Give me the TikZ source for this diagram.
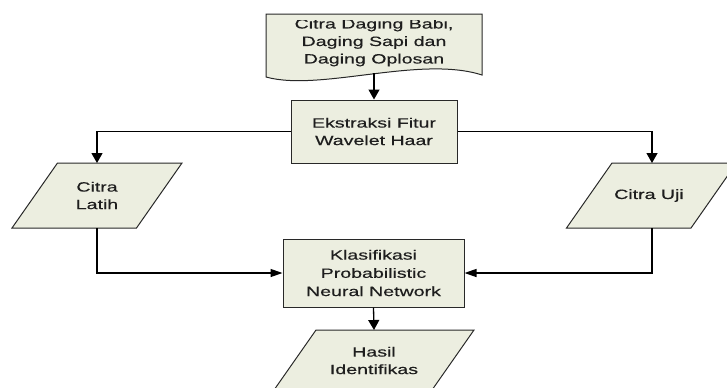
\documentclass[tikz,border=0pt]{standalone}
\usepackage{fontspec}
\setmainfont{Liberation Sans}[FakeStretch=1.45,FakeBold=0.4]
\usetikzlibrary{arrows.meta}
\definecolor{boxfill}{RGB}{236,238,224}
\definecolor{boxline}{RGB}{40,40,40}
\definecolor{txt}{RGB}{30,30,30}
\tikzset{
  shapeline/.style={draw=boxline, line width=1bp, fill=boxfill},
  procbox/.style={shapeline, rectangle, inner sep=0pt},
  lbl/.style={align=center, text=txt, inner sep=0pt, font=\fontsize{13.5bp}{17.5bp}\selectfont},
  conn/.style={draw=black, line width=1.3bp},
  varr/.style={conn, -{Triangle[length=10bp,width=11bp]}},
  harr/.style={conn, -{Triangle[length=12bp,width=8bp]}},
}
\begin{document}
\begin{tikzpicture}[x=1bp,y=-1bp]
\useasboundingbox (0,0) rectangle (727,387);
\clip (0,0) rectangle (727,387);
% document shape
\def\docpath{(266,14) -- (482,14) -- (482,75) .. controls (420,55) and (320,92) .. (266,77) -- cycle}
\fill[boxfill] \docpath;
\begin{scope}
  \clip (266,20.5) rectangle (482,80);
  \node[lbl] (doc) at (374,42.5) {Citra Daging Babi,\\Daging Sapi dan\\Daging Oplosan};
\end{scope}
\draw[draw=boxline, line width=1bp] \docpath;
\coordinate (docb) at (374,73);
% process boxes
\node[procbox, minimum width=166bp, minimum height=63bp] (ekstr) at (374,131.5) {};
\node[lbl] (ekstrt) at (374,131.5) {Ekstraksi Fitur\\Wavelet Haar};
\node[procbox, minimum width=181bp, minimum height=68bp] (klas) at (373.5,273) {};
\node[lbl, font=\fontsize{13.5bp}{18.2bp}\selectfont] (klast) at (373.5,273) {Klasifikasi\\Probabilistic\\Neural Network};
% parallelograms
\draw[shapeline] (57.5,163) -- (182,163) -- (136.5,228) -- (12,228) -- cycle;
\node[lbl] (latih) at (97,195.5) {Citra\\Latih};
\coordinate (latihT) at (97,163);
\coordinate (latihB) at (97,228);
\draw[shapeline] (612,163) -- (736.5,163) -- (691,228) -- (566.5,228) -- cycle;
\node[lbl] (uji) at (649,195.5) {Citra Uji};
\coordinate (ujiT) at (652,163);
\coordinate (ujiB) at (652,228);
\draw[shapeline] (316,330) -- (474,330) -- (428.5,395) -- (270.5,395) -- cycle;
\node[lbl] (hasil) at (374,360.5) {Hasil\\Identifikas};
\coordinate (hasilT) at (374,330);
% connectors
\draw[varr] (docb) -- (ekstr.north);
\draw[varr] (ekstr.west) -| (latihT);
\draw[varr] (ekstr.east) -| (ujiT);
\draw[harr] (latihB) |- (klas.west);
\draw[harr] (ujiB) |- (klas.east);
\draw[varr] (klas.south) -- (hasilT);
\end{tikzpicture}
\end{document}
